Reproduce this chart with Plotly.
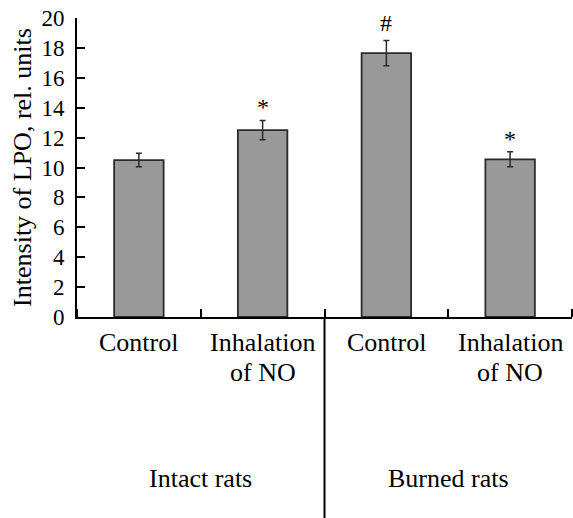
import plotly.graph_objects as go

cat_line1 = ["Control", "Inhalation", "Control", "Inhalation"]
cat_line2 = ["", "of NO", "", "of NO"]
groups = ["Intact rats", "Burned rats"]
values = [10.5, 12.5, 17.65, 10.55]
errors = [0.45, 0.65, 0.85, 0.5]
marks = ["", "*", "#", "*"]
y_ticks = list(range(0, 21, 2))

FONT = "Liberation Serif, Times New Roman, DejaVu Serif, serif"
xpos = [i + 0.5 for i in range(len(values))]

fig = go.Figure()
fig.add_trace(go.Bar(
    x=xpos, y=values, width=0.4,
    marker=dict(color="#999999", line=dict(color="#2b2b2b", width=1.8)),
    error_y=dict(type="data", array=errors, color="#2b2b2b", thickness=1.5, width=3),
    showlegend=False,
))

for xp, v, e, m in zip(xpos, values, errors, marks):
    if m:
        fig.add_annotation(x=xp, y=v + e, text=m, showarrow=False, yanchor="bottom",
                           yshift=-2 if m == "*" else 2,
                           font=dict(family=FONT, size=24, color="black"))

for xp, l1, l2 in zip(xpos, cat_line1, cat_line2):
    fig.add_annotation(x=xp, xref="x", y=0, yref="paper", text=l1, showarrow=False,
                       yanchor="middle", yshift=-25, font=dict(family=FONT, size=26, color="black"))
    if l2:
        fig.add_annotation(x=xp, xref="x", y=0, yref="paper", text=l2, showarrow=False,
                           yanchor="middle", yshift=-55, font=dict(family=FONT, size=26, color="black"))

for i, g in enumerate(groups):
    fig.add_annotation(x=2 * i + 1, xref="x", y=-0.54, yref="paper", text=g, showarrow=False,
                       yanchor="middle", font=dict(family=FONT, size=26, color="black"))

fig.add_shape(type="line", xref="x", yref="paper", x0=2, x1=2, y0=0, y1=-0.7,
              line=dict(color="black", width=2))

fig.update_layout(
    width=573, height=518,
    margin=dict(l=77, r=1, t=18, b=201),
    plot_bgcolor="white", paper_bgcolor="white",
    bargap=0.6,
    font=dict(family=FONT, color="black"),
)
fig.update_xaxes(
    range=[0, 4], tickmode="array", tickvals=xpos, showticklabels=False, automargin=False,
    ticks="", showline=True, linewidth=2, linecolor="black", showgrid=False, zeroline=False,
    minor=dict(tickmode="array", tickvals=[0, 1, 2, 3, 4], ticks="inside", ticklen=8,
               tickwidth=2, tickcolor="black", showgrid=False),
)
fig.update_yaxes(
    range=[0, 20], tickmode="array", tickvals=y_ticks, ticks="inside", ticklen=8, tickwidth=2,
    tickcolor="black", showline=True, linewidth=2, linecolor="black", showgrid=False,
    zeroline=False, tickfont=dict(family=FONT, size=23, color="black"), ticklabelstandoff=6,
    automargin=False, ticklabeloverflow="allow",
    title=dict(text="Intensity of LPO, rel. units", font=dict(family=FONT, size=26, color="black"),
               standoff=2),
)

fig.write_html("out.html", config={"displayModeBar": False},
               post_script="document.body.style.margin='0';document.body.style.overflow='hidden';")
